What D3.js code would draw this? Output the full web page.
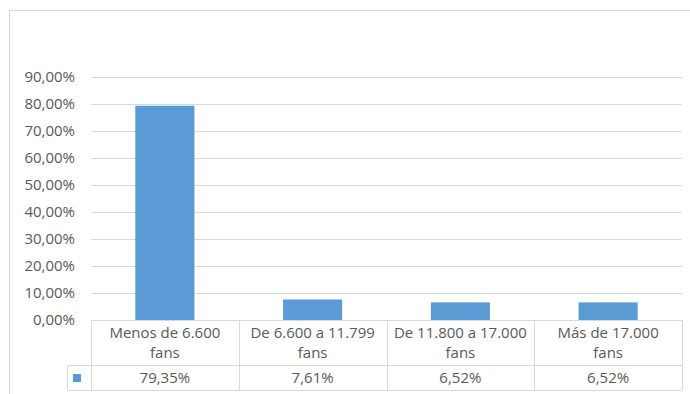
<!DOCTYPE html>
<html>
<head>
<meta charset="utf-8">
<script src="https://cdn.jsdelivr.net/npm/d3@7"></script>
<style>
  body { margin: 0; background: #fff; }
  text { font-family: "Open Sans", "Liberation Sans", Arial, sans-serif; fill: #595959; }
</style>
</head>
<body>
<div id="chart"></div>
<script>
// Data
let categories = ["Menos de 6.600 fans", "De 6.600 a 11.799 fans", "De 11.800 a 17.000 fans", "Más de 17.000 fans"];
let categoryLines = [["Menos de 6.600", "fans"], ["De 6.600 a 11.799", "fans"], ["De 11.800 a 17.000", "fans"], ["Más de 17.000", "fans"]];
let values = [0.7935, 0.0761, 0.0652, 0.0652];
let yTicks = [0, 0.1, 0.2, 0.3, 0.4, 0.5, 0.6, 0.7, 0.8, 0.9];

let svgWidth = 690;
let svgHeight = 394;
let fontSize = "15px";

// plot area
let plot = { left: 91, right: 682, top: 77, bottom: 320 };
let headerBottom = 365;
let tableBottom = 390;
let keyLeft = 67;

let esLocale = d3.formatLocale({ decimal: ",", thousands: ".", grouping: [3], currency: ["", " €"] });
let pct = esLocale.format(".2%");

let svg = d3.select("#chart")
  .append("svg")
  .attr("width", svgWidth)
  .attr("height", svgHeight);

// chart frame (runs off the right and bottom edges)
svg.append("rect")
  .attr("x", 9.5)
  .attr("y", 10.5)
  .attr("width", 700)
  .attr("height", 400)
  .attr("fill", "none")
  .attr("stroke", "#d9d9d9");

let x = d3.scaleBand()
  .domain(categories)
  .range([plot.left, plot.right])
  .padding(0);

let y = d3.scaleLinear()
  .domain([0, 0.9])
  .range([plot.bottom, plot.top]);

// gridlines
svg.append("g")
  .selectAll("line")
  .data(yTicks.filter(d => d > 0))
  .enter()
  .append("line")
  .attr("x1", plot.left)
  .attr("x2", plot.right)
  .attr("y1", d => Math.round(y(d)) + 0.5)
  .attr("y2", d => Math.round(y(d)) + 0.5)
  .attr("stroke", "#d9d9d9");

// y axis labels
let leftAxis = d3.axisLeft(y).tickValues(yTicks).tickFormat(pct).tickSize(0).tickPadding(16);
let yAxis = svg.append("g")
  .attr("transform", `translate(${plot.left}, 0)`)
  .call(leftAxis);
yAxis.select(".domain").remove();
yAxis.selectAll("text")
  .style("font-size", fontSize)
  .style("font-family", "'Open Sans', 'Liberation Sans', Arial, sans-serif")
  .attr("fill", "#595959");

// bars
let barW = x.bandwidth() * 0.4;
svg.append("g")
  .selectAll("rect")
  .data(values)
  .enter()
  .append("rect")
  .attr("x", (d, i) => x(categories[i]) + (x.bandwidth() - barW) / 2)
  .attr("y", d => y(d))
  .attr("width", barW)
  .attr("height", d => y(0) - y(d))
  .attr("fill", "#5b9bd5");

// data table
let table = svg.append("g").attr("stroke", "#d9d9d9").attr("fill", "none");
table.append("line").attr("x1", plot.left).attr("x2", plot.right).attr("y1", plot.bottom + 0.5).attr("y2", plot.bottom + 0.5);
table.append("line").attr("x1", keyLeft).attr("x2", plot.right).attr("y1", headerBottom + 0.5).attr("y2", headerBottom + 0.5);
table.append("line").attr("x1", keyLeft).attr("x2", plot.right).attr("y1", tableBottom + 0.5).attr("y2", tableBottom + 0.5);
table.append("line").attr("x1", keyLeft + 0.5).attr("x2", keyLeft + 0.5).attr("y1", headerBottom).attr("y2", tableBottom);

let edges = categories.map(c => x(c)).concat([plot.right]);
table.selectAll(".vline")
  .data(edges)
  .enter()
  .append("line")
  .attr("class", "vline")
  .attr("x1", d => Math.round(d) + 0.5)
  .attr("x2", d => Math.round(d) + 0.5)
  .attr("y1", plot.bottom)
  .attr("y2", tableBottom);

// category headers
let headers = svg.append("g");
categoryLines.forEach(function(lines, i) {
  let cx = x(categories[i]) + x.bandwidth() / 2;
  headers.append("text")
    .attr("x", cx)
    .attr("y", 333)
    .attr("dy", "0.35em")
    .attr("text-anchor", "middle")
    .style("font-size", fontSize)
    .text(lines[0]);
  headers.append("text")
    .attr("x", cx)
    .attr("y", 353)
    .attr("dy", "0.35em")
    .attr("text-anchor", "middle")
    .style("font-size", fontSize)
    .text(lines[1]);
});

// value row
svg.append("g")
  .selectAll("text")
  .data(values)
  .enter()
  .append("text")
  .attr("x", (d, i) => x(categories[i]) + x.bandwidth() / 2)
  .attr("y", 378)
  .attr("dy", "0.35em")
  .attr("text-anchor", "middle")
  .style("font-size", fontSize)
  .text(d => pct(d));

// legend key
svg.append("rect")
  .attr("x", 73)
  .attr("y", 374)
  .attr("width", 8)
  .attr("height", 8)
  .attr("fill", "#5b9bd5");
</script>
</body>
</html>
